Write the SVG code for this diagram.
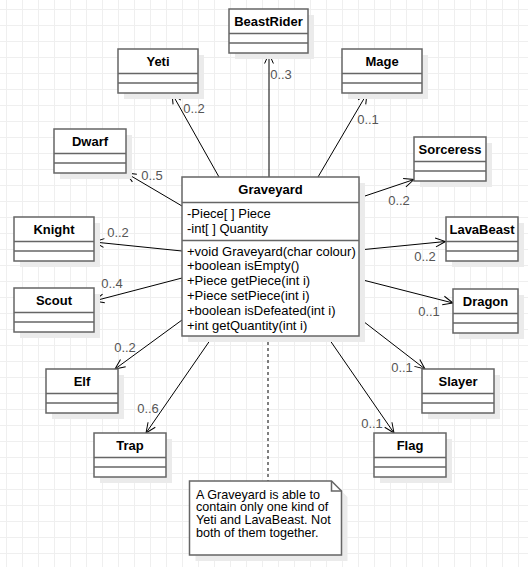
<svg xmlns="http://www.w3.org/2000/svg" width="528" height="567" viewBox="0 0 528 567">
<defs>
<pattern id="grid" x="6" y="9" width="16" height="16" patternUnits="userSpaceOnUse">
<path d="M0.5 0 V16 M0 0.5 H16" fill="none" stroke="#efefef" stroke-width="1"/>
</pattern>
<marker id="arr" viewBox="0 0 12 10" markerWidth="12" markerHeight="10" refX="10.5" refY="5" orient="auto" markerUnits="userSpaceOnUse" overflow="visible">
<path d="M0.5,0.6 L10.5,5 L0.5,9.4" fill="none" stroke="#000" stroke-width="1"/>
</marker>
<style>
.box{fill:#fff;stroke:#666;stroke-width:1.5}
.sh{fill:#ebebeb}
.sep{stroke:#666;stroke-width:1.5}
.name{font-family:"Liberation Sans",Arial,sans-serif;font-size:13px;font-weight:bold;text-anchor:middle;fill:#000}
.txt{font-family:"Liberation Sans",Arial,sans-serif;font-size:13px;fill:#000}
.note{font-family:"Liberation Sans",Arial,sans-serif;font-size:12.6px;fill:#000}
.lbl{font-family:"Liberation Sans",Arial,sans-serif;font-size:13px;fill:#555;text-anchor:middle}
.con{stroke:#000;stroke-width:1;fill:none;marker-end:url(#arr)}
</style>
</defs>
<rect width="528" height="567" fill="#fff"/>
<rect width="528" height="567" fill="url(#grid)"/>

<g id="connectors">
<line class="con" x1="269" y1="177" x2="269" y2="53.5"/>
<line class="con" x1="219" y1="177" x2="172" y2="93.5"/>
<line class="con" x1="318" y1="177" x2="367" y2="93.5"/>
<line class="con" x1="359" y1="198" x2="414" y2="179.5"/>
<line class="con" x1="359" y1="250" x2="445.5" y2="241.5"/>
<line class="con" x1="359" y1="279" x2="453" y2="303"/>
<line class="con" x1="359" y1="318" x2="425" y2="369"/>
<line class="con" x1="327" y1="336" x2="394" y2="433"/>
<line class="con" x1="213" y1="336" x2="146" y2="433"/>
<line class="con" x1="182" y1="320" x2="115" y2="369"/>
<line class="con" x1="182" y1="278" x2="94" y2="301"/>
<line class="con" x1="182" y1="251" x2="94" y2="242"/>
<line class="con" x1="182" y1="206" x2="126" y2="173"/>
<line x1="268" y1="336" x2="268" y2="481" stroke="#000" stroke-width="1" stroke-dasharray="3 3"/>
<text class="lbl" x="281" y="79">0..3</text>
<text class="lbl" x="194" y="113">0..2</text>
<text class="lbl" x="368" y="124">0..1</text>
<text class="lbl" x="399" y="205">0..2</text>
<text class="lbl" x="425" y="261">0..2</text>
<text class="lbl" x="429" y="316">0..1</text>
<text class="lbl" x="402" y="372">0..1</text>
<text class="lbl" x="372" y="428">0..1</text>
<text class="lbl" x="148" y="413">0..6</text>
<text class="lbl" x="125" y="352">0..2</text>
<text class="lbl" x="112" y="288">0..4</text>
<text class="lbl" x="118" y="237">0..2</text>
<text class="lbl" x="152" y="180">0..5</text>
</g>

<g id="Graveyard">
<rect class="sh" x="188" y="183" width="177" height="159"/>
<rect class="box" x="182" y="177" width="177" height="159"/>
<line class="sep" x1="182" y1="202.5" x2="359" y2="202.5"/>
<line class="sep" x1="182" y1="240.5" x2="359" y2="240.5"/>
<text class="name" x="270.5" y="194">Graveyard</text>
<text class="txt" x="187" y="217.5">-Piece[  ] Piece</text>
<text class="txt" x="187" y="233">-int[  ] Quantity</text>
<text class="txt" x="187" y="255.5">+void Graveyard(char colour)</text>
<text class="txt" x="187" y="270.3">+boolean isEmpty()</text>
<text class="txt" x="187" y="285.1">+Piece getPiece(int i)</text>
<text class="txt" x="187" y="299.9">+Piece setPiece(int i)</text>
<text class="txt" x="187" y="314.7">+boolean isDefeated(int i)</text>
<text class="txt" x="187" y="329.5">+int getQuantity(int i)</text>
</g>

<g id="BeastRider">
<rect class="sh" x="235" y="15" width="79" height="44"/>
<rect class="box" x="229" y="9" width="79" height="44"/>
<line class="sep" x1="229" y1="33.5" x2="308" y2="33.5"/>
<line class="sep" x1="229" y1="43" x2="308" y2="43"/>
<text class="name" x="268.5" y="26">BeastRider</text>
</g>

<g id="Yeti">
<rect class="sh" x="124" y="55" width="80" height="44"/>
<rect class="box" x="118" y="49" width="80" height="44"/>
<line class="sep" x1="118" y1="73.5" x2="198" y2="73.5"/>
<line class="sep" x1="118" y1="83" x2="198" y2="83"/>
<text class="name" x="158" y="66">Yeti</text>
</g>

<g id="Mage">
<rect class="sh" x="348" y="55" width="80" height="44"/>
<rect class="box" x="342" y="49" width="80" height="44"/>
<line class="sep" x1="342" y1="73.5" x2="422" y2="73.5"/>
<line class="sep" x1="342" y1="83" x2="422" y2="83"/>
<text class="name" x="382" y="66">Mage</text>
</g>

<g id="Dwarf">
<rect class="sh" x="60" y="135" width="72" height="44"/>
<rect class="box" x="54" y="129" width="72" height="44"/>
<line class="sep" x1="54" y1="153.5" x2="126" y2="153.5"/>
<line class="sep" x1="54" y1="163" x2="126" y2="163"/>
<text class="name" x="90" y="146">Dwarf</text>
</g>

<g id="Sorceress">
<rect class="sh" x="420" y="143" width="72" height="44"/>
<rect class="box" x="414" y="137" width="72" height="44"/>
<line class="sep" x1="414" y1="161.5" x2="486" y2="161.5"/>
<line class="sep" x1="414" y1="171" x2="486" y2="171"/>
<text class="name" x="450" y="154">Sorceress</text>
</g>

<g id="Knight">
<rect class="sh" x="20" y="223" width="80" height="44"/>
<rect class="box" x="14" y="217" width="80" height="44"/>
<line class="sep" x1="14" y1="241.5" x2="94" y2="241.5"/>
<line class="sep" x1="14" y1="251" x2="94" y2="251"/>
<text class="name" x="54" y="234">Knight</text>
</g>

<g id="LavaBeast">
<rect class="sh" x="452" y="223" width="72" height="44"/>
<rect class="box" x="446" y="217" width="72" height="44"/>
<line class="sep" x1="446" y1="241.5" x2="518" y2="241.5"/>
<line class="sep" x1="446" y1="251" x2="518" y2="251"/>
<text class="name" x="482" y="234">LavaBeast</text>
</g>

<g id="Scout">
<rect class="sh" x="20" y="294" width="80" height="44"/>
<rect class="box" x="14" y="288" width="80" height="44"/>
<line class="sep" x1="14" y1="312.5" x2="94" y2="312.5"/>
<line class="sep" x1="14" y1="322" x2="94" y2="322"/>
<text class="name" x="54" y="305">Scout</text>
</g>

<g id="Dragon">
<rect class="sh" x="459" y="295" width="65" height="44"/>
<rect class="box" x="453" y="289" width="65" height="44"/>
<line class="sep" x1="453" y1="313.5" x2="518" y2="313.5"/>
<line class="sep" x1="453" y1="323" x2="518" y2="323"/>
<text class="name" x="485.5" y="306">Dragon</text>
</g>

<g id="Elf">
<rect class="sh" x="52" y="375" width="72" height="44"/>
<rect class="box" x="46" y="369" width="72" height="44"/>
<line class="sep" x1="46" y1="393.5" x2="118" y2="393.5"/>
<line class="sep" x1="46" y1="403" x2="118" y2="403"/>
<text class="name" x="82" y="386">Elf</text>
</g>

<g id="Slayer">
<rect class="sh" x="428" y="375" width="72" height="44"/>
<rect class="box" x="422" y="369" width="72" height="44"/>
<line class="sep" x1="422" y1="393.5" x2="494" y2="393.5"/>
<line class="sep" x1="422" y1="403" x2="494" y2="403"/>
<text class="name" x="458" y="386">Slayer</text>
</g>

<g id="Trap">
<rect class="sh" x="100" y="439" width="72" height="44"/>
<rect class="box" x="94" y="433" width="72" height="44"/>
<line class="sep" x1="94" y1="457.5" x2="166" y2="457.5"/>
<line class="sep" x1="94" y1="467" x2="166" y2="467"/>
<text class="name" x="130" y="450">Trap</text>
</g>

<g id="Flag">
<rect class="sh" x="380" y="439" width="72" height="44"/>
<rect class="box" x="374" y="433" width="72" height="44"/>
<line class="sep" x1="374" y1="457.5" x2="446" y2="457.5"/>
<line class="sep" x1="374" y1="467" x2="446" y2="467"/>
<text class="name" x="410" y="450">Flag</text>
</g>

<g id="Note">
<path class="sh" d="M195.5,487 H337.5 L347.5,497 V561 H195.5 Z"/>
<path class="box" d="M189.5,481 H331.5 L341.5,491 V555 H189.5 Z"/>
<path d="M331.5,481 V491 H341.5" fill="none" stroke="#666" stroke-width="1.5"/>
<text class="note" x="196" y="498.5">A Graveyard is able to</text>
<text class="note" x="196" y="511.3">contain only one kind of</text>
<text class="note" x="196" y="524.1">Yeti and LavaBeast. Not</text>
<text class="note" x="196" y="536.9">both of them together.</text>
</g>
</svg>
